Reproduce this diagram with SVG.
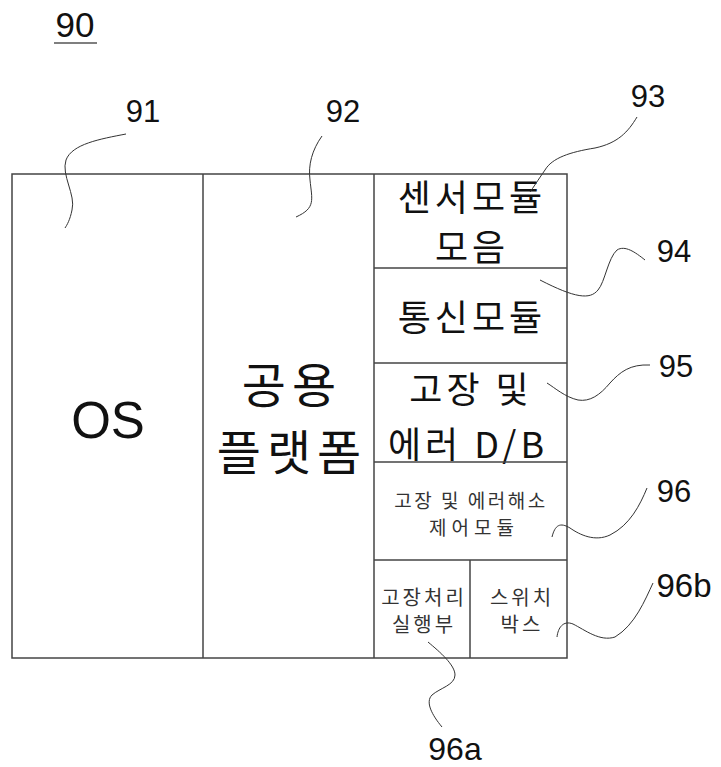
<svg xmlns="http://www.w3.org/2000/svg" width="721" height="767" viewBox="0 0 721 767">
<style>
.box{fill:none;stroke:#444;stroke-width:1.5}
.div{stroke:#444;stroke-width:1.5}
.lead{fill:none;stroke:#333;stroke-width:1}
.lbl{font-family:"Liberation Sans",Arial,sans-serif;font-size:31px;fill:#111;text-anchor:middle}
.kr{font-family:"Noto Sans CJK KR","Noto Sans",sans-serif;fill:#111;text-anchor:middle}
.big{font-size:48px;letter-spacing:6px}
.mid{font-size:36px;letter-spacing:4px}
.sm{font-size:19px;letter-spacing:2.5px;fill:#333}
.xs{font-size:20px;letter-spacing:3px;fill:#333}
</style>
<rect width="721" height="767" fill="#fff"/>
<g id="title">
<text class="lbl" x="75" y="37" style="font-size:35px">90</text>
<line x1="54" y1="43" x2="97" y2="43" stroke="#555" stroke-width="1.5"/>
</g>
<g id="frame">
<rect class="box" x="12" y="174" width="555" height="484"/>
</g>
<g id="n91">
<line class="div" x1="203" y1="174" x2="203" y2="658"/>
<text class="lbl" x="108" y="438" style="font-size:51px">OS</text>
</g>
<g id="n92">
<line class="div" x1="374" y1="174" x2="374" y2="658"/>
<text class="kr big" x="292" y="403">공용</text>
<text class="kr big" x="292" y="470">플랫폼</text>
</g>
<g id="n93">
<text class="kr mid" x="472" y="211">센서모듈</text>
<text class="kr mid" x="472" y="261">모음</text>
</g>
<g id="n94">
<line class="div" x1="374" y1="268" x2="567" y2="268"/>
<text class="kr mid" x="472" y="331">통신모듈</text>
</g>
<g id="n95">
<line class="div" x1="374" y1="363" x2="567" y2="363"/>
<text class="kr mid" x="471" y="403">고장 및</text>
<text class="kr mid" x="468" y="458">에러 D/B</text>
</g>
<g id="n96">
<line class="div" x1="374" y1="462" x2="567" y2="462"/>
<text class="kr sm" x="471" y="508">고장 및 에러해소</text>
<text class="kr sm" x="474" y="535" style="letter-spacing:5px">제어모듈</text>
</g>
<g id="n96a">
<line class="div" x1="374" y1="560" x2="567" y2="560"/>
<text class="kr xs" x="424" y="605">고장처리</text>
<text class="kr xs" x="424" y="632">실행부</text>
</g>
<g id="n96b">
<line class="div" x1="470" y1="560" x2="470" y2="658"/>
<text class="kr xs" x="522" y="605">스위치</text>
<text class="kr xs" x="522" y="632">박스</text>
</g>
<g id="labels">
<text class="lbl" x="143" y="122">91</text>
<text class="lbl" x="343" y="122">92</text>
<text class="lbl" x="648" y="107">93</text>
<text class="lbl" x="674" y="262">94</text>
<text class="lbl" x="676" y="377">95</text>
<text class="lbl" x="674" y="502">96</text>
<text class="lbl" x="684" y="597" style="font-size:33px">96b</text>
<text class="lbl" x="455" y="760" style="font-size:32px">96a</text>
</g>
<g id="connectors">
<path class="lead" d="M126,134 C100,139 72,144 66,160 C61,175 76,195 72,210 C70,220 67,225 65,228"/>
<path class="lead" d="M322,136 C312,150 308,165 310,180 C312,200 316,208 296,217"/>
<path class="lead" d="M637,117 C628,132 618,143 595,148 C570,152 552,158 545,170 C538,180 533,188 530,192"/>
<path class="lead" d="M645,260 C635,252 625,245 617,250 C608,258 605,282 598,290 C590,300 575,298 540,280"/>
<path class="lead" d="M650,365 C630,364 620,372 610,383 C600,395 590,402 578,400 C565,397 555,388 547,383"/>
<path class="lead" d="M647,488 C640,505 630,525 610,535 C595,542 580,535 570,528 C560,522 555,525 552,537"/>
<path class="lead" d="M653,583 C645,600 635,625 615,637 C600,642 585,630 573,624 C563,620 558,628 557,637"/>
<path class="lead" d="M428,642 C440,652 455,665 455,675 C455,685 440,688 432,695 C425,702 432,715 442,727"/>
</g>
</svg>
